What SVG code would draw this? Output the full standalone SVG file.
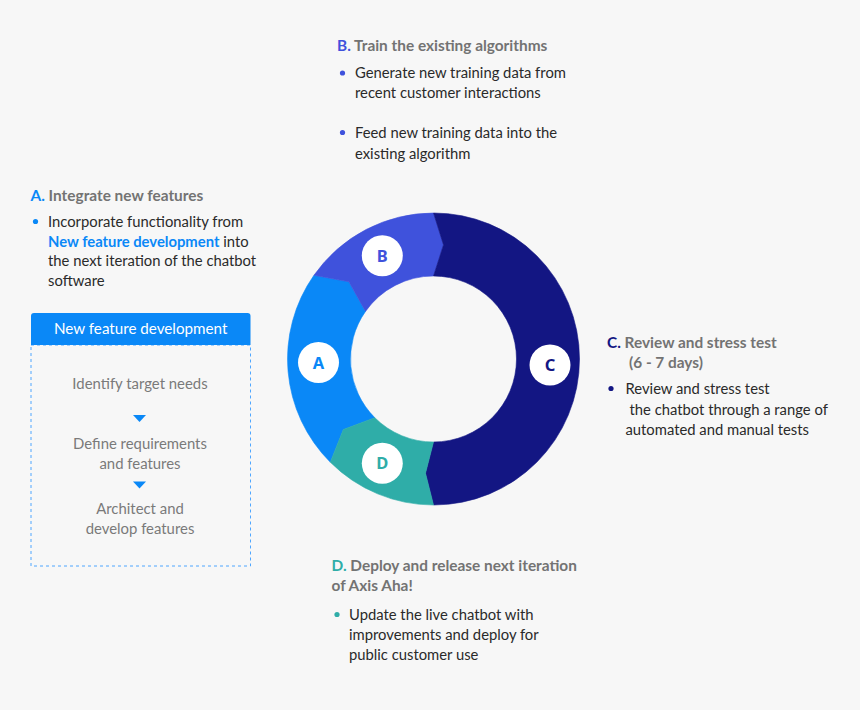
<svg xmlns="http://www.w3.org/2000/svg" width="860" height="710" viewBox="0 0 860 710">
<style>
text{font-family:Lato,"Open Sans","Liberation Sans",sans-serif}
.hd{font-size:15.4px;font-weight:700;fill:#737373}
.bd{font-size:14.8px;fill:#2a2a2a}
.bx{font-size:14.9px;fill:#7a7a7a;text-anchor:middle}
.lt{font-family:"Noto Sans","Open Sans",sans-serif;font-size:16.5px;font-weight:700;text-anchor:middle}
.cA{fill:#0a88f7}.cB{fill:#3f52dc}.cC{fill:#131683}.cD{fill:#2fada8}
.lbl{fill:#ffffff}
</style>
<rect width="860" height="710" fill="#f7f7f7"/>

<g id="ring">
<g id="seg-A">
<path class="cA" stroke="#0a88f7" stroke-width="0.6" d="M330.3,462.2 A146,146 0 0 1 313.9,275.3 L348.9,281.8 L365.5,311.4 A83,83 0 0 0 374.8,417.7 L343.3,429.5 Z"/>
<circle class="lbl" cx="318.5" cy="362.5" r="20.5"/>
<text class="lt cA" x="318.5" y="368.5">A</text>
</g>
<g id="seg-B">
<path class="cB" stroke="#3f52dc" stroke-width="0.6" d="M313.9,275.3 A146,146 0 0 1 433.5,213 L443.5,244.9 L433.5,276 A83,83 0 0 0 365.5,311.4 L348.9,281.8 Z"/>
<circle class="lbl" cx="382.3" cy="255.7" r="20.5"/>
<text class="lt cB" x="382.3" y="261.7">B</text>
</g>
<g id="seg-C">
<path class="cC" stroke="#131683" stroke-width="0.6" d="M433.5,213 A146,146 0 0 1 579.5,359 A146,146 0 0 1 433.5,505 L425.5,473.2 L433.5,442 A83,83 0 0 0 516.5,359 A83,83 0 0 0 433.5,276 L443.5,244.9 Z"/>
<circle class="lbl" cx="550" cy="365" r="20.5"/>
<text class="lt cC" x="550" y="371">C</text>
</g>
<g id="seg-D">
<path class="cD" stroke="#2fada8" stroke-width="0.6" d="M433.5,505 A146,146 0 0 1 330.3,462.2 L343.3,429.5 L374.8,417.7 A83,83 0 0 0 433.5,442 L425.5,473.2 Z"/>
<circle class="lbl" cx="382.3" cy="463.3" r="20.5"/>
<text class="lt cD" x="382.3" y="469.3">D</text>
</g>
</g>

<g id="text-B">
<text class="hd" x="337" y="51"><tspan class="cB">B.</tspan> Train the existing algorithms</text>
<circle class="cB" cx="342.5" cy="73" r="2.6"/>
<text class="bd" x="355" y="78">Generate new training data from</text>
<text class="bd" x="355" y="98">recent customer interactions</text>
<circle class="cB" cx="342.5" cy="132.5" r="2.6"/>
<text class="bd" x="355" y="138">Feed new training data into the</text>
<text class="bd" x="355" y="158.5">existing algorithm</text>
</g>

<g id="text-A">
<text class="hd" x="30.5" y="200.5"><tspan class="cA">A.</tspan> Integrate new features</text>
<circle class="cA" cx="35.5" cy="221.5" r="2.6"/>
<text class="bd" x="48" y="226.5">Incorporate functionality from</text>
<text class="bd" x="48" y="246.5"><tspan class="cA" font-weight="700">New feature development</tspan> into</text>
<text class="bd" x="48" y="266">the next iteration of the chatbot</text>
<text class="bd" x="48" y="286">software</text>
</g>

<g id="text-C">
<text class="hd" x="607" y="347.5"><tspan class="cC">C.</tspan> Review and stress test</text>
<text class="hd" x="629" y="368">(6 - 7 days)</text>
<circle class="cC" cx="611" cy="388.5" r="2.6"/>
<text class="bd" x="625.5" y="394">Review and stress test</text>
<text class="bd" x="629.5" y="415">the chatbot through a range of</text>
<text class="bd" x="625.5" y="434.5">automated and manual tests</text>
</g>

<g id="text-D">
<text class="hd" x="331.5" y="570.5"><tspan class="cD">D.</tspan> Deploy and release next iteration</text>
<text class="hd" x="331.5" y="590.5">of Axis Aha!</text>
<circle class="cD" cx="337" cy="614.5" r="2.6"/>
<text class="bd" x="349" y="620">Update the live chatbot with</text>
<text class="bd" x="349" y="640">improvements and deploy for</text>
<text class="bd" x="349" y="659.5">public customer use</text>
</g>

<g id="feature-box">
<rect x="31" y="345" width="219.5" height="221" fill="none" stroke="#4ea6ff" stroke-width="1" stroke-dasharray="3,3"/>
<path class="cA" d="M31,345 V316 Q31,313 34,313 H247.5 Q250.5,313 250.5,316 V345 Z"/>
<text x="140.7" y="334" fill="#ffffff" font-size="15.2" text-anchor="middle">New feature development</text>
</g>
<g id="step-1"><text class="bx" x="140" y="388.5">Identify target needs</text></g>
<g id="step-2"><text class="bx" x="140" y="448.5">Define requirements</text><text class="bx" x="140" y="468.5">and features</text></g>
<g id="step-3"><text class="bx" x="140" y="513.5">Architect and</text><text class="bx" x="140" y="533.5">develop features</text></g>

<g id="connectors">
<path class="cA" d="M133,415 H146 L139.5,422 Z"/>
<path class="cA" d="M133,481.5 H146 L139.5,488.5 Z"/>
</g>
</svg>
